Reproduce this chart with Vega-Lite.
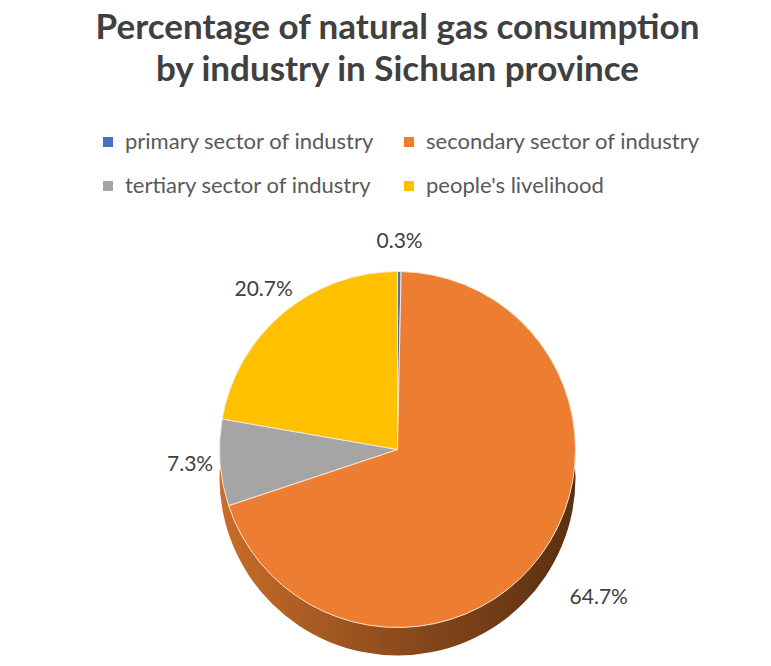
{
  "$schema": "https://vega.github.io/schema/vega-lite/v6.json",
  "autosize": {"type": "fit", "contains": "padding"},
  "width": 771,
  "height": 666,
  "padding": {"top": 19, "left": 24, "right": 0, "bottom": 6},
  "background": "white",
  "title": {
    "text": ["Percentage of natural gas consumption", "by industry in Sichuan province"],
    "font": "Lato",
    "fontSize": 35,
    "fontWeight": "bold",
    "color": "#404040",
    "lineHeight": 42,
    "anchor": "middle",
    "offset": 143
  },
  "data": {
    "values": [
      {"sector": "primary sector of industry", "value": 0.3, "label": "0.3%", "order": 1},
      {"sector": "secondary sector of industry", "value": 64.7, "label": "64.7%", "order": 2},
      {"sector": "tertiary sector of industry", "value": 7.3, "label": "7.3%", "order": 3},
      {"sector": "people's livelihood", "value": 20.7, "label": "20.7%", "order": 4}
    ]
  },
  "config": {
    "view": {"stroke": null},
    "font": "Lato",
    "legend": {
      "symbolType": "square",
      "symbolSize": 100,
      "symbolStrokeWidth": 0,
      "labelFontSize": 22,
      "labelColor": "#595959",
      "labelLimit": 400,
      "columns": 2,
      "columnPadding": 23,
      "rowPadding": 22,
      "labelOffset": 6
    }
  },
  "transform": [
    {"stack": "value", "groupby": [], "sort": [{"field": "order", "order": "ascending"}], "as": ["v0", "v1"]}
  ],
  "layer": [
    {
      "mark": {
        "type": "arc",
        "outerRadius": 178,
        "yOffset": 28,
        "fill": {
          "gradient": "linear",
          "x1": 0, "x2": 1, "y1": 0, "y2": 0,
          "stops": [
            {"offset": 0, "color": "#C96D2A"},
            {"offset": 0.5, "color": "#8C4B1C"},
            {"offset": 1, "color": "#5A2F10"}
          ]
        }
      },
      "encoding": {
        "theta": {"aggregate": "min", "field": "v0", "type": "quantitative", "scale": {"domain": [0, 93]}},
        "theta2": {"aggregate": "max", "field": "v1"}
      }
    },
    {
      "mark": {"type": "arc", "outerRadius": 178, "stroke": "#FBE5D6", "strokeWidth": 1},
      "encoding": {
        "theta": {"field": "v0", "type": "quantitative", "scale": {"domain": [0, 93]}},
        "theta2": {"field": "v1"},
        "color": {
          "field": "sector",
          "type": "nominal",
          "sort": null,
          "scale": {
            "domain": ["primary sector of industry", "secondary sector of industry", "tertiary sector of industry", "people's livelihood"],
            "range": ["#4472C4", "#ED7D31", "#A5A5A5", "#FFC000"]
          },
          "legend": {"orient": "none", "direction": "horizontal", "legendX": 73, "legendY": -108, "title": null}
        }
      }
    },
    {
      "transform": [
        {"filter": "datum.order != 2"},
        {"fold": ["v0", "v1"], "as": ["edge", "pos"]}
      ],
      "mark": {"type": "text", "radius": 208, "fontSize": 21, "fill": "#404040"},
      "encoding": {
        "theta": {"aggregate": "mean", "field": "pos", "type": "quantitative", "scale": {"domain": [0, 93]}},
        "text": {"field": "label", "type": "nominal"}
      }
    },
    {
      "transform": [
        {"filter": "datum.order == 2"},
        {"fold": ["v0", "v1"], "as": ["edge", "pos"]}
      ],
      "mark": {"type": "text", "radius": 250, "fontSize": 21, "fill": "#404040"},
      "encoding": {
        "theta": {"aggregate": "mean", "field": "pos", "type": "quantitative", "scale": {"domain": [0, 93]}},
        "text": {"field": "label", "type": "nominal"}
      }
    }
  ]
}
